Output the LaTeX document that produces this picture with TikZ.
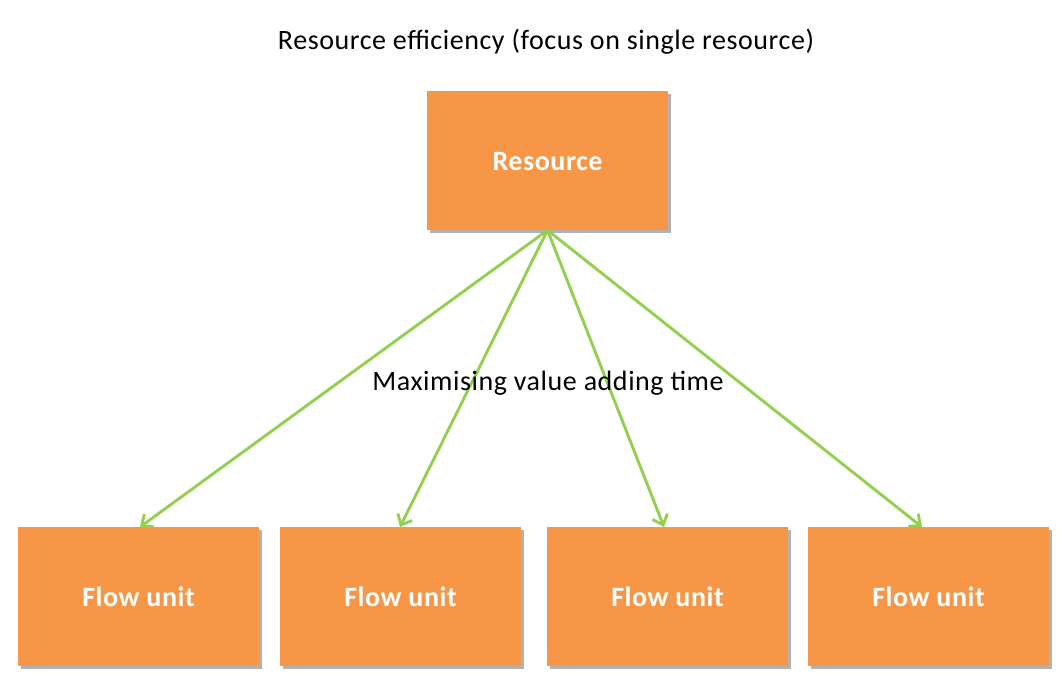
\documentclass[tikz,border=0pt]{standalone}
\usepackage{fontspec}
\setmainfont{Carlito}[LetterSpace=2]
\usetikzlibrary{shadows,arrows.meta}
\definecolor{boxorange}{HTML}{F79646}
\definecolor{linkgreen}{HTML}{92D050}
\begin{document}
\begin{tikzpicture}[x=1pt,y=-1pt,
  unitbox/.style={fill=boxorange, draw=none, minimum width=241pt, minimum height=139pt,
    inner sep=0pt, text=white, font=\fontsize{28}{32}\selectfont\bfseries,
    text height=22pt, text depth=2pt,
    drop shadow={shadow xshift=3pt, shadow yshift=-3pt, fill=black, opacity=0.3}},
  link/.style={draw=linkgreen, line width=2.9pt, -{Straight Barb[length=9pt,width=16pt,line width=2.9pt]}},
  plain/.style={font=\fontsize{28}{32}\selectfont, text=black}]
\useasboundingbox (0,0) rectangle (1062,683);
\fill[white] (0,0) rectangle (1062,683);
\node[plain] (title) at (546,42) {Resource efficiency (focus on single resource)};
\node[unitbox] (res) at (547.5,160.5) {Resource};
\node[unitbox] (f1) at (138.5,596.5) {Flow unit};
\node[unitbox] (f2) at (400.5,596.5) {Flow unit};
\node[unitbox] (f3) at (667.5,596.5) {Flow unit};
\node[unitbox] (f4) at (928.5,596.5) {Flow unit};
\coordinate (src) at (res.south);
\coordinate (t1) at (140,527);
\coordinate (t2) at (400,527);
\coordinate (t3) at (664,527);
\coordinate (t4) at (922,527);
\draw[link] (src) -- (t1);
\draw[link] (src) -- (t2);
\draw[link] (src) -- (t3);
\draw[link] (src) -- (t4);
\node[plain] (lbl) at (548,383) {Maximising value adding time};
\end{tikzpicture}
\end{document}
